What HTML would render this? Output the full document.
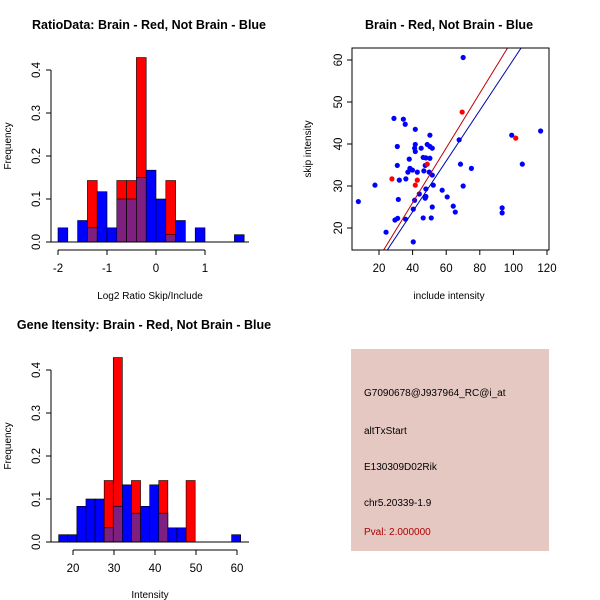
<!DOCTYPE html>
<html><head><meta charset="utf-8"><style>
body{margin:0;background:#fff}
svg{display:block;font-family:"Liberation Sans",sans-serif}
</style></head><body>
<svg id="c" width="600" height="600" viewBox="0 0 600 600"></svg>
<script>
// ----- data: ratio histogram -----
const ratioStart = -2, ratioBin = 0.2;
const ratioBlue = [0.033,0,0.05,0.033,0.117,0.033,0.1,0.1,0.15,0.167,0.1,0.017,0.05,0,0.033,0,0,0,0.017];
const ratioRed  = [0,0,0,0.143,0,0,0.143,0.143,0.429,0,0,0.143,0,0,0,0,0,0,0];
const ratioXTicks = [-2,-1,0,1];
// ----- data: intensity histogram -----
const intStart = 16.5, intBin = 2.22;
const intBlue = [0.017,0.017,0.083,0.1,0.1,0.033,0.083,0.133,0.067,0.083,0.133,0.067,0.033,0.033,0,0,0,0,0,0.017];
const intRed  = [0,0,0,0,0,0.143,0.429,0,0.143,0,0,0.143,0,0,0.143,0,0,0,0,0];
const intXTicks = [20,30,40,50,60];
const freqTicks = ["0.0","0.1","0.2","0.3","0.4"];
// ----- data: scatter -----
const blueX = [70.1,7.7,17.6,24.2,28.9,34.5,35.6,41.6,50.3,30.9,41.6,41.2,41.6,45.1,48.7,50.3,51.7,38.0,46.3,47.9,50.3,30.9,47.5,38.4,39.9,37.2,42.8,46.7,49.9,51.7,32.1,36.0,52.3,57.6,60.6,44.0,47.5,47.9,31.5,41.2,51.7,64.2,65.4,40.4,29.5,31.1,35.8,46.3,51.1,40.4,67.7,68.5,75.0,70.1,93.3,93.3,99.0,105.3,116.2,47.9];
const blueY = [60.6,26.3,30.2,19.0,46.1,45.9,44.7,43.5,42.1,39.4,39.9,39.0,38.2,39.0,39.9,39.4,39.0,36.4,36.8,36.7,36.6,34.9,34.9,34.2,33.8,33.3,33.3,33.6,33.3,32.6,31.4,31.7,30.2,29.0,27.4,28.1,27.1,27.5,26.8,26.6,25.0,25.2,23.8,24.5,21.9,22.3,22.1,22.4,22.4,16.7,41.0,35.2,34.2,30.0,24.8,23.6,42.1,35.2,43.1,29.3];
const redX = [69.5,101.4,27.7,42.8,41.6,48.7];
const redY = [47.6,41.4,31.7,31.4,30.2,35.2];
const redLine = [-0.07,0.652];   // intercept, slope
const blueLine = [-0.3,0.604];
const scXTicks = [20,40,60,80,100,120];
const scYTicks = [20,30,40,50,60];

const S = document.getElementById('c');
const NS = 'http://www.w3.org/2000/svg';
function el(tag, attrs, parent){const e=document.createElementNS(NS,tag);for(const k in attrs)e.setAttribute(k,attrs[k]);(parent||S).appendChild(e);return e;}
function txt(x,y,s,attrs){const t=el('text',Object.assign({x:x,y:y,'font-size':11,fill:'#000','text-anchor':'middle'},attrs||{}));t.textContent=s;return t;}

function hist(g, x0, bin, blue, red, xs, ys){
  blue.forEach((b,i)=>{
    const r=red[i], xa=xs(x0+i*bin), xb=xs(x0+(i+1)*bin), hi=Math.max(b,r), lo=Math.min(b,r);
    if(hi<=0) return;
    const top = b>=r ? 'blue' : 'red';
    const e1=el('rect',{x:xa,y:ys(hi),width:xb-xa,height:ys(0)-ys(hi),fill:top==='blue'?'#0000ff':'#ff0000',stroke:'#000','stroke-width':0.6},g);
    
    
    if(lo>0){
      const e2=el('rect',{x:xa,y:ys(lo),width:xb-xa,height:ys(0)-ys(lo),fill:'#7f1f7f',stroke:'#000','stroke-width':0.6},g);
      
      
    }
  });
}
function freqAxis(g, ys, axX){
  el('line',{x1:axX,y1:ys(0),x2:axX,y2:ys(0.4),stroke:'#000'},g);
  freqTicks.forEach((t,i)=>{const v=i*0.1;const y=ys(v);
    el('line',{x1:axX-5,y1:y,x2:axX,y2:y,stroke:'#000'},g);
    txt(axX-11,y,t,{transform:'rotate(-90 '+(axX-11)+' '+y+')','font-size':11.5},g);
  });
}

// Panel 1
const g1=el('g',{});  
const xs1=v=>58+(v+2)*49, ys1=v=>242-v*430;
hist(g1,ratioStart,ratioBin,ratioBlue,ratioRed,xs1,ys1);
el('line',{x1:50,y1:242,x2:249,y2:242,stroke:'#000'},g1);
freqAxis(g1,ys1,51);
el('line',{x1:xs1(-2),y1:250,x2:xs1(1),y2:250,stroke:'#000'},g1);
ratioXTicks.forEach(t=>{el('line',{x1:xs1(t),y1:250,x2:xs1(t),y2:255,stroke:'#000'},g1);txt(xs1(t),272,String(t),{'font-size':11.5},g1);});
txt(149,29,'RatioData: Brain - Red, Not Brain - Blue',{'font-weight':'bold','font-size':12.5,});
txt(150,299,'Log2 Ratio Skip/Include',{'font-size':10,});
txt(11,146,'Frequency',{'font-size':10,transform:'rotate(-90 11 146)',});

// Panel 3
const g3=el('g',{});  
const xs3=v=>73+(v-20)*4.1, ys3=v=>542-v*430;
hist(g3,intStart,intBin,intBlue,intRed,xs3,ys3);
el('line',{x1:50,y1:542,x2:249,y2:542,stroke:'#000'},g3);
freqAxis(g3,ys3,51);
el('line',{x1:xs3(20),y1:550,x2:xs3(60),y2:550,stroke:'#000'},g3);
intXTicks.forEach(t=>{el('line',{x1:xs3(t),y1:550,x2:xs3(t),y2:555,stroke:'#000'},g3);txt(xs3(t),572,String(t),{'font-size':11.5},g3);});
txt(144,329,'Gene Itensity: Brain - Red, Not Brain - Blue',{'font-weight':'bold','font-size':12.5,});
txt(150,598,'Intensity',{'font-size':10,});
txt(11,446,'Frequency',{'font-size':10,transform:'rotate(-90 11 446)',});

// Panel 2 scatter
const g2=el('g',{});  
const xs2=v=>379+(v-20)*1.68, ys2=v=>60+(60-v)*4.2;
const bx0=352,bx1=549,by0=48,by1=250;
el('clipPath',{id:'cp'},g2); el('rect',{x:bx0,y:by0,width:bx1-bx0,height:by1-by0},document.getElementById('cp'));
blueX.forEach((x,i)=>{const c=el('circle',{cx:xs2(x),cy:ys2(blueY[i]),r:2.6,fill:'#0000ff'},g2);
  
  });
redX.forEach((x,i)=>{const c=el('circle',{cx:xs2(x),cy:ys2(redY[i]),r:2.6,fill:'#ff0000'},g2);
  
  });
[[redLine,'#c00000','fit-line-brain'],[blueLine,'#0000b0','fit-line-not-brain']].forEach(([L,col,nm])=>{
  const l=el('line',{x1:xs2(0),y1:ys2(L[0]),x2:xs2(130),y2:ys2(L[0]+L[1]*130),stroke:col,'stroke-width':1,'clip-path':'url(#cp)'},g2);
  
  
});
el('rect',{x:bx0,y:by0,width:bx1-bx0,height:by1-by0,fill:'none',stroke:'#000'},g2);
scXTicks.forEach(t=>{el('line',{x1:xs2(t),y1:by1,x2:xs2(t),y2:by1+5,stroke:'#000'},g2);txt(xs2(t),272,String(t),{'font-size':11.5},g2);});
scYTicks.forEach(t=>{el('line',{x1:bx0-5,y1:ys2(t),x2:bx0,y2:ys2(t),stroke:'#000'},g2);txt(342,ys2(t),String(t),{transform:'rotate(-90 342 '+ys2(t)+')','font-size':11.5},g2);});
txt(449,29,'Brain - Red, Not Brain - Blue',{'font-weight':'bold','font-size':12.5,});
txt(449,299,'include intensity',{'font-size':10,});
txt(311,149,'skip intensity',{'font-size':10,transform:'rotate(-90 311 149)',});

// Panel 4 info box
const g4=el('g',{});  
el('rect',{x:351,y:349,width:198,height:202,fill:'#e5c8c2'},g4);
[['G7090678@J937964_RC@i_at',396,'#000'],['altTxStart',434,'#000'],['E130309D02Rik',470,'#000'],['chr5.20339-1.9',506,'#000'],['Pval: 2.000000',535,'#b00000']].forEach(([s,y,c])=>{
  txt(364,y,s,{'text-anchor':'start','font-size':10,fill:c},g4);
});
</script>
</body></html>
